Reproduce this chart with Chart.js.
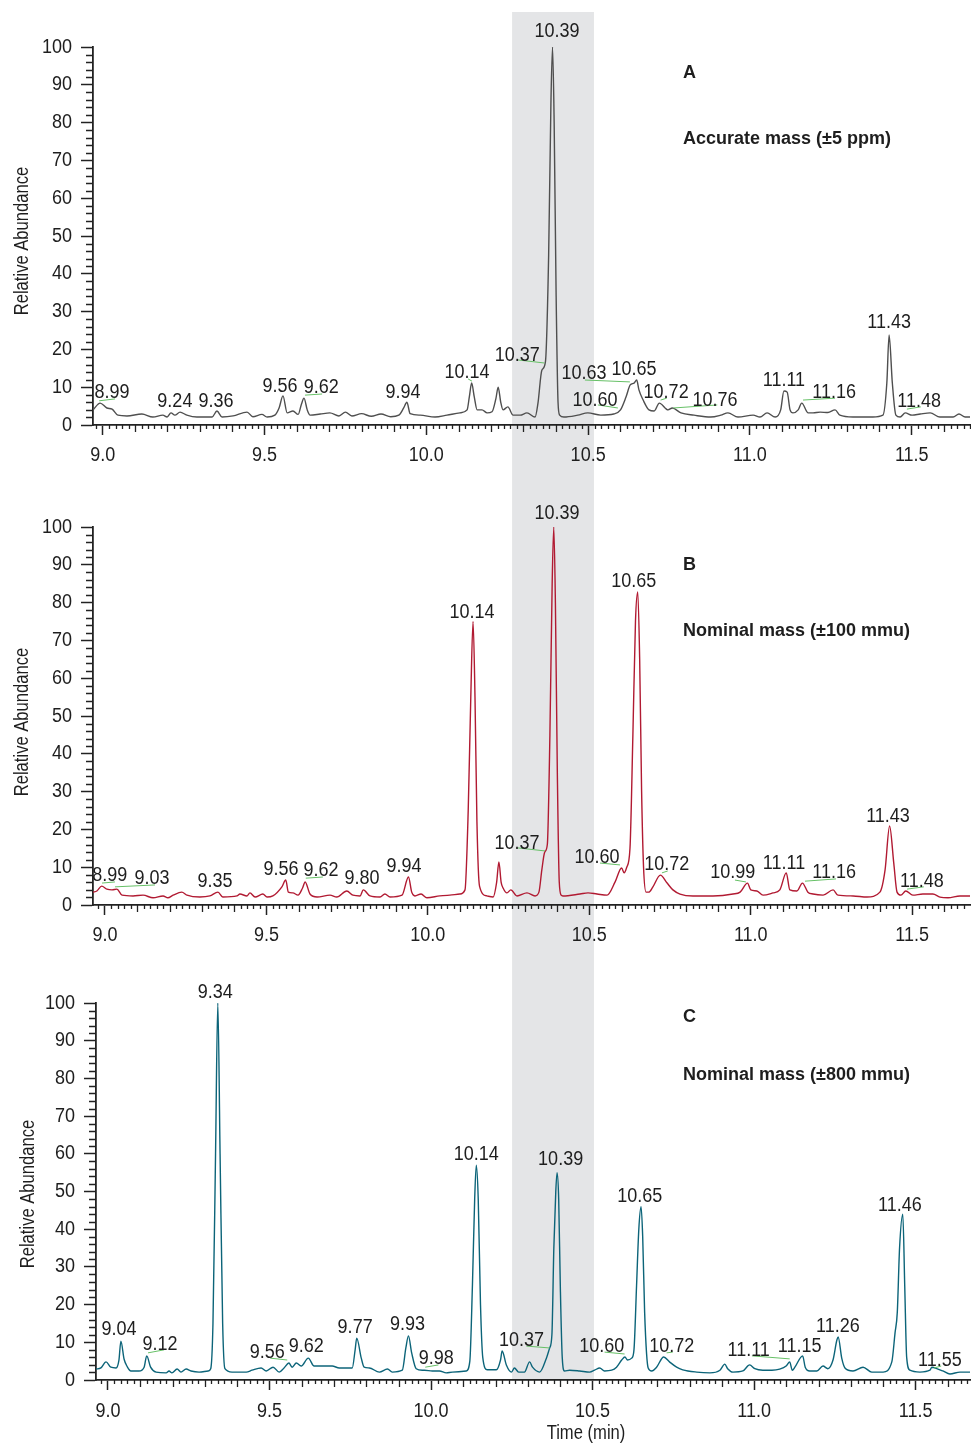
<!DOCTYPE html>
<html>
<head>
<meta charset="utf-8">
<script src="https://cdn.jsdelivr.net/npm/chart.js"></script>
<style>
  body { margin: 0; background: #fff; }
  #wrap { position: relative; width: 971px; height: 1445px; }
  canvas { position: absolute; left: 0; }
</style>
</head>
<body>
<div id="wrap">
  <canvas id="chartA" width="971" height="480" style="top:0"></canvas>
  <canvas id="chartB" width="971" height="480" style="top:480px"></canvas>
  <canvas id="chartC" width="971" height="485" style="top:960px"></canvas>
</div>
<script>
// retention time (min) / relative abundance (%) for the three extracted ion traces

// A: accurate mass window
const timeA = [8.970, 8.992, 9.013, 9.029, 9.047, 9.075, 9.121, 9.155, 9.186, 9.199,
  9.211, 9.223, 9.239, 9.260, 9.291, 9.338, 9.353, 9.369, 9.403, 9.446,
  9.464, 9.492, 9.508, 9.532, 9.545, 9.557, 9.570, 9.588, 9.604, 9.614,
  9.622, 9.632, 9.641, 9.672, 9.702, 9.730, 9.750, 9.770, 9.800, 9.830,
  9.860, 9.890, 9.915, 9.930, 9.940, 9.950, 9.981, 10.027, 10.064, 10.104,
  10.126, 10.133, 10.140, 10.148, 10.157, 10.172, 10.188, 10.203, 10.215, 10.222,
  10.230, 10.237, 10.252, 10.268, 10.290, 10.311, 10.336, 10.345, 10.357, 10.368,
  10.378, 10.385, 10.390, 10.395, 10.401, 10.407, 10.412, 10.425, 10.468, 10.499,
  10.539, 10.579, 10.600, 10.617, 10.630, 10.642, 10.650, 10.657, 10.670, 10.688,
  10.704, 10.720, 10.747, 10.760, 10.787, 10.827, 10.879, 10.910, 10.932, 10.963,
  11.010, 11.031, 11.053, 11.078, 11.095, 11.105, 11.115, 11.124, 11.133, 11.149,
  11.160, 11.180, 11.195, 11.217, 11.241, 11.263, 11.278, 11.318, 11.380, 11.411,
  11.423, 11.430, 11.440, 11.451, 11.464, 11.480, 11.501, 11.526, 11.557, 11.587,
  11.628, 11.646, 11.665, 11.680];
const abundA = [4.0, 5.8, 4.5, 4.2, 2.6, 2.4, 2.9, 2.1, 2.6, 2.1,
  3.2, 2.6, 3.4, 2.6, 2.1, 2.1, 3.7, 2.1, 2.4, 3.4,
  2.2, 2.8, 2.1, 2.6, 4.5, 7.7, 3.2, 3.7, 2.8, 5.5,
  7.1, 4.0, 2.6, 2.9, 3.2, 2.4, 3.4, 2.4, 3.0, 2.3,
  2.9, 2.2, 2.6, 4.5, 6.0, 3.0, 2.6, 2.1, 2.6, 3.2,
  4.0, 7.5, 11.1, 7.5, 4.0, 4.0, 3.2, 3.5, 7.0, 10.0,
  6.0, 4.0, 4.8, 2.6, 2.6, 3.2, 2.1, 5.8, 14.5, 16.7,
  45, 85, 100, 80, 35, 6.0, 2.6, 2.1, 2.6, 3.2,
  2.6, 2.9, 4.0, 7.4, 10.6, 11.1, 11.9, 9.3, 6.6, 4.0,
  3.7, 5.8, 4.0, 4.5, 3.2, 2.6, 2.1, 2.6, 3.2, 2.1,
  2.6, 2.1, 3.2, 2.1, 4.0, 9.0, 8.7, 4.0, 3.2, 4.0,
  5.8, 3.2, 3.2, 3.4, 3.3, 4.0, 2.6, 2.1, 2.1, 2.6,
  11.1, 23.8, 11.1, 2.6, 2.1, 3.2, 2.6, 2.9, 3.2, 2.1,
  2.1, 2.9, 2.1, 2.1];

// B: nominal mass, 100 mmu window
const timeB = [8.963, 8.975, 8.990, 9.006, 9.022, 9.037, 9.053, 9.087, 9.118, 9.149,
  9.180, 9.195, 9.211, 9.238, 9.254, 9.294, 9.325, 9.350, 9.365, 9.409,
  9.418, 9.440, 9.449, 9.465, 9.489, 9.502, 9.520, 9.548, 9.560, 9.568,
  9.582, 9.598, 9.612, 9.620, 9.635, 9.657, 9.697, 9.718, 9.749, 9.768,
  9.790, 9.800, 9.821, 9.852, 9.867, 9.883, 9.920, 9.940, 9.950, 9.960,
  9.979, 9.997, 10.037, 10.068, 10.099, 10.115, 10.125, 10.133, 10.140, 10.146,
  10.152, 10.160, 10.183, 10.202, 10.213, 10.220, 10.227, 10.233, 10.245, 10.257,
  10.276, 10.307, 10.332, 10.344, 10.353, 10.362, 10.370, 10.378, 10.385, 10.390,
  10.395, 10.401, 10.407, 10.413, 10.418, 10.471, 10.496, 10.524, 10.555, 10.580,
  10.600, 10.608, 10.616, 10.626, 10.635, 10.643, 10.650, 10.656, 10.662, 10.668,
  10.676, 10.684, 10.697, 10.720, 10.741, 10.759, 10.781, 10.821, 10.883, 10.945,
  10.967, 10.990, 11.000, 11.019, 11.038, 11.069, 11.090, 11.110, 11.121, 11.143,
  11.160, 11.177, 11.193, 11.224, 11.255, 11.270, 11.317, 11.360, 11.400, 11.416,
  11.430, 11.443, 11.453, 11.465, 11.480, 11.502, 11.533, 11.564, 11.586, 11.611,
  11.648, 11.679];
const abundB = [3.4, 3.7, 5.0, 4.2, 4.0, 4.2, 2.6, 2.4, 2.6, 1.9,
  2.4, 1.9, 2.6, 3.4, 2.6, 2.1, 2.4, 3.4, 2.1, 2.4,
  2.9, 2.4, 3.2, 2.1, 2.9, 2.1, 2.4, 4.8, 6.6, 3.4,
  3.2, 2.6, 4.5, 6.1, 2.9, 2.1, 2.6, 2.1, 3.7, 2.6,
  2.4, 4.0, 2.4, 2.1, 2.9, 2.1, 2.6, 7.4, 3.4, 2.4,
  2.9, 1.9, 2.4, 2.6, 2.9, 4.0, 25, 55, 75, 55,
  22, 5.0, 2.4, 2.1, 6.0, 11.4, 6.0, 4.5, 3.2, 4.0,
  2.4, 3.2, 2.4, 3.4, 9.3, 14.0, 16.0, 45, 85, 100,
  80, 35, 6.0, 2.6, 2.4, 2.9, 3.2, 2.9, 2.6, 6.1,
  9.8, 8.5, 10.0, 15, 45, 75, 82.8, 65, 30, 10,
  3.4, 3.4, 4.8, 7.9, 5.8, 4.0, 2.9, 2.4, 2.4, 2.9,
  3.4, 5.8, 4.0, 3.7, 2.6, 3.2, 4.0, 8.5, 4.0, 3.7,
  5.8, 3.4, 2.9, 2.6, 4.0, 2.6, 2.4, 2.1, 3.4, 9.3,
  20.9, 11.0, 3.4, 2.6, 3.7, 2.6, 2.9, 2.9, 2.1, 1.9,
  2.4, 2.4];

// C: nominal mass, 800 mmu window
const timeC = [8.963, 8.978, 8.994, 9.009, 9.025, 9.034, 9.040, 9.050, 9.060, 9.071,
  9.096, 9.112, 9.120, 9.132, 9.149, 9.180, 9.189, 9.198, 9.214, 9.226,
  9.242, 9.257, 9.282, 9.310, 9.318, 9.325, 9.333, 9.340, 9.347, 9.355,
  9.362, 9.384, 9.428, 9.446, 9.474, 9.490, 9.511, 9.530, 9.545, 9.560,
  9.570, 9.583, 9.598, 9.620, 9.638, 9.654, 9.694, 9.716, 9.756, 9.765,
  9.770, 9.784, 9.793, 9.809, 9.840, 9.865, 9.880, 9.911, 9.922, 9.930,
  9.940, 9.954, 9.973, 9.980, 10.004, 10.026, 10.047, 10.066, 10.109, 10.120,
  10.128, 10.135, 10.140, 10.146, 10.153, 10.160, 10.174, 10.202, 10.215, 10.220,
  10.233, 10.249, 10.258, 10.271, 10.289, 10.305, 10.314, 10.336, 10.357, 10.367,
  10.374, 10.380, 10.386, 10.390, 10.395, 10.400, 10.406, 10.413, 10.429, 10.460,
  10.491, 10.506, 10.522, 10.537, 10.559, 10.574, 10.590, 10.600, 10.608, 10.621,
  10.628, 10.636, 10.643, 10.650, 10.655, 10.661, 10.667, 10.672, 10.683, 10.698,
  10.720, 10.738, 10.760, 10.779, 10.822, 10.863, 10.894, 10.909, 10.918, 10.934,
  10.965, 10.986, 11.002, 11.027, 11.055, 11.079, 11.100, 11.110, 11.118, 11.126,
  11.150, 11.158, 11.172, 11.194, 11.213, 11.228, 11.244, 11.256, 11.260, 11.271,
  11.281, 11.306, 11.337, 11.364, 11.399, 11.426, 11.436, 11.443, 11.450, 11.460,
  11.466, 11.472, 11.482, 11.513, 11.544, 11.550, 11.569, 11.584, 11.606, 11.637,
  11.668];
const abundC = [2.9, 3.2, 4.8, 3.4, 3.2, 5.3, 10.3, 5.5, 3.5, 2.4,
  2.4, 3.4, 6.4, 3.4, 2.1, 1.9, 2.4, 1.9, 2.9, 2.1,
  2.9, 2.4, 2.1, 2.4, 3.0, 15, 60, 100, 60, 15,
  3.0, 2.1, 2.1, 2.6, 3.2, 2.4, 3.4, 2.1, 3.2, 4.5,
  3.4, 4.5, 3.7, 5.8, 3.7, 3.7, 3.7, 3.2, 3.2, 8.0,
  11.1, 5.8, 3.4, 3.2, 2.1, 2.9, 2.1, 2.6, 8.5, 11.7,
  7.2, 3.0, 2.6, 2.6, 2.4, 2.4, 1.9, 2.1, 2.4, 5.0,
  25, 48, 57, 48, 20, 6.0, 2.7, 2.7, 5.3, 7.7,
  4.0, 2.1, 3.2, 2.1, 2.1, 4.8, 3.4, 2.1, 5.8, 8.5,
  12, 35, 50, 55, 48, 25, 6.0, 2.4, 2.6, 2.4,
  2.1, 2.6, 3.2, 2.4, 2.6, 3.4, 5.3, 6.1, 5.3, 5.8,
  8.0, 25, 40, 46, 38, 18, 7.0, 3.2, 2.4, 3.4,
  6.1, 4.8, 3.4, 2.7, 2.1, 1.9, 2.6, 4.2, 3.0, 2.1,
  2.4, 4.0, 3.0, 2.6, 2.6, 2.9, 3.8, 4.8, 2.6, 3.4,
  6.4, 3.4, 2.4, 2.4, 3.7, 3.0, 5.3, 10.6, 11.4, 5.8,
  3.2, 2.4, 3.4, 2.1, 2.1, 4.8, 12.5, 18, 35, 44,
  25, 6.0, 2.6, 2.1, 2.6, 3.4, 2.9, 2.4, 1.6, 2.1,
  2.1];

const xTicks = [9.0, 9.5, 10.0, 10.5, 11.0, 11.5];
const yTicks = [0, 10, 20, 30, 40, 50, 60, 70, 80, 90, 100];
const bandWindow = [10.265, 10.518];   // shaded retention window (min)

// peak annotations: label text, label centre (min, %), optional leader line
const peaksA = [
  { text: '8.99', at: [9.029, 8.5], leader: [8.989, 6.4, 9.038, 6.9] },
  { text: '9.24', at: [9.223, 6.3] },
  { text: '9.36', at: [9.350, 6.3] },
  { text: '9.56', at: [9.548, 10.3] },
  { text: '9.62', at: [9.675, 9.8], leader: [9.625, 7.9, 9.678, 8.2] },
  { text: '9.94', at: [9.928, 8.5] },
  { text: '10.14', at: [10.126, 13.8], leader: [10.129, 12.2, 10.141, 11.6] },
  { text: '10.37', at: [10.281, 18.5], leader: [10.284, 17.2, 10.365, 16.4] },
  { text: '10.39', at: [10.404, 104.2] },
  { text: '10.63', at: [10.487, 13.5], leader: [10.490, 11.9, 10.629, 11.4] },
  { text: '10.65', at: [10.642, 14.8] },
  { text: '10.60', at: [10.521, 6.6], leader: [10.530, 5.3, 10.592, 4.5] },
  { text: '10.72', at: [10.741, 8.5], leader: [10.724, 6.6, 10.743, 7.1] },
  { text: '10.76', at: [10.892, 6.6], leader: [10.763, 4.5, 10.899, 5.3] },
  { text: '11.11', at: [11.105, 11.9] },
  { text: '11.16', at: [11.260, 8.5], leader: [11.164, 6.6, 11.263, 7.1] },
  { text: '11.43', at: [11.430, 27.0] },
  { text: '11.48', at: [11.523, 6.3], leader: [11.485, 4.2, 11.528, 4.8] }
];
const peaksB = [
  { text: '8.99', at: [9.015, 7.7], leader: [8.991, 5.8, 9.031, 6.1] },
  { text: '9.03', at: [9.146, 6.9], leader: [9.031, 4.8, 9.155, 5.3] },
  { text: '9.35', at: [9.341, 6.3] },
  { text: '9.56', at: [9.545, 9.5] },
  { text: '9.62', at: [9.669, 9.0], leader: [9.622, 7.1, 9.675, 7.4] },
  { text: '9.80', at: [9.796, 6.9] },
  { text: '9.94', at: [9.926, 10.3] },
  { text: '10.14', at: [10.137, 77.5] },
  { text: '10.39', at: [10.400, 103.7] },
  { text: '10.37', at: [10.276, 16.4], leader: [10.279, 15.1, 10.363, 14.3] },
  { text: '10.65', at: [10.638, 85.7] },
  { text: '10.60', at: [10.524, 12.7], leader: [10.533, 11.1, 10.595, 10.6] },
  { text: '10.72', at: [10.740, 10.8], leader: [10.725, 8.5, 10.743, 9.0] },
  { text: '10.99', at: [10.944, 8.5], leader: [10.951, 6.6, 10.985, 6.1] },
  { text: '11.11', at: [11.103, 11.1] },
  { text: '11.16', at: [11.258, 8.5], leader: [11.168, 6.3, 11.264, 6.9] },
  { text: '11.43', at: [11.425, 23.5] },
  { text: '11.48', at: [11.530, 6.3], leader: [11.484, 4.2, 11.536, 4.8] }
];
const peaksC = [
  { text: '9.04', at: [9.034, 13.3] },
  { text: '9.12', at: [9.161, 9.3], leader: [9.124, 7.2, 9.174, 8.0] },
  { text: '9.34', at: [9.332, 102.9] },
  { text: '9.56', at: [9.493, 7.4], leader: [9.502, 5.8, 9.555, 5.3] },
  { text: '9.62', at: [9.614, 8.8] },
  { text: '9.77', at: [9.765, 13.8] },
  { text: '9.93', at: [9.927, 14.6] },
  { text: '9.98', at: [10.016, 5.8], leader: [9.982, 3.4, 10.023, 4.0] },
  { text: '10.14', at: [10.140, 59.9] },
  { text: '10.37', at: [10.280, 10.6], leader: [10.295, 9.0, 10.367, 8.5] },
  { text: '10.39', at: [10.401, 58.4] },
  { text: '10.60', at: [10.528, 9.0], leader: [10.537, 7.4, 10.599, 6.9] },
  { text: '10.65', at: [10.646, 48.8] },
  { text: '10.72', at: [10.745, 9.0], leader: [10.729, 7.2, 10.748, 7.4] },
  { text: '11.11', at: [10.983, 7.7], leader: [10.993, 6.4, 11.110, 5.6] },
  { text: '11.15', at: [11.141, 9.0] },
  { text: '11.26', at: [11.259, 14.3] },
  { text: '11.46', at: [11.451, 46.2] },
  { text: '11.55', at: [11.575, 5.3], leader: [11.557, 3.2, 11.579, 3.7] }
];

const FAMILY = "'Liberation Sans', Arial, sans-serif";
const NUM_FONT = '20px ' + FAMILY;
const TITLE_FONT = '20px ' + FAMILY;
const CAPTION_FONT = 'bold 18px ' + FAMILY;
const INK = '#1e1e1e';

const panels = [
  { id: 'chartA', time: timeA, abund: abundA, color: '#4f4f4f', peaks: peaksA,
    letter: 'A', caption: 'Accurate mass (\u00b15 ppm)', letterY: 73, captionY: 139,
    xMin: 8.970, xMax: 11.680, padTop: 47, axisW: 93, axisH: 55, labelGap: 30,
    bandTop: 12, bandToAxis: false, titleX: 22, titleY: 241 },
  { id: 'chartB', time: timeB, abund: abundB, color: '#b11a32', peaks: peaksB,
    letter: 'B', caption: 'Nominal mass (\u00b1100 mmu)', letterY: 85, captionY: 151,
    xMin: 8.963, xMax: 11.679, padTop: 47, axisW: 93, axisH: 55, labelGap: 30,
    bandTop: 0, bandToAxis: false, titleX: 22, titleY: 242 },
  { id: 'chartC', time: timeC, abund: abundC, color: '#0c6479', peaks: peaksC,
    letter: 'C', caption: 'Nominal mass (\u00b1800 mmu)', letterY: 57, captionY: 115,
    xMin: 8.963, xMax: 11.668, padTop: 43, axisW: 96, axisH: 65, labelGap: 31,
    bandTop: 0, bandToAxis: true, titleX: 28, titleY: 234,
    xTitle: 'Time (min)', xTitleX: 586, xTitleY: 473 }
];

// the print uses a condensed face; squeeze a regular sans horizontally
function narrowText(ctx, text, x, y, align, font, squeeze) {
  ctx.save();
  ctx.font = font;
  ctx.textAlign = align;
  ctx.textBaseline = 'middle';
  ctx.translate(x, y);
  ctx.scale(squeeze, 1);
  ctx.fillText(text, 0, 0);
  ctx.restore();
}

const charts = [];

function makePanel(p) {
  const points = p.time.map((t, i) => ({ x: t, y: p.abund[i] }));

  const deco = {
    id: 'deco',
    beforeDraw(chart) {
      // grey retention window, aligned to the top panel's time axis
      const ref = (charts[0] || chart).scales.x;
      const x1 = ref.getPixelForValue(bandWindow[0]);
      const x2 = ref.getPixelForValue(bandWindow[1]);
      const bottom = p.bandToAxis ? chart.chartArea.bottom + 1 : chart.height;
      const ctx = chart.ctx;
      ctx.save();
      ctx.fillStyle = '#e4e5e7';
      ctx.fillRect(x1, p.bandTop, x2 - x1, bottom - p.bandTop);
      ctx.restore();
    },
    afterDraw(chart) {
      const { ctx, chartArea: area, scales: { x, y } } = chart;
      ctx.save();
      // minor ticks: every 0.02 min (0.1 min a bit longer), every 2 % on y
      ctx.strokeStyle = '#222';
      ctx.lineWidth = 1.3;
      ctx.beginPath();
      for (let i = Math.ceil(p.xMin * 50); i <= Math.floor(p.xMax * 50); i++) {
        if (i % 25 === 0) continue;
        const px = Math.round(x.getPixelForValue(i / 50)) + 0.5;
        const len = i % 5 === 0 ? 7 : 4;
        ctx.moveTo(px, area.bottom);
        ctx.lineTo(px, area.bottom + len);
      }
      for (let v = 2; v < 100; v += 2) {
        if (v % 10 === 0) continue;
        const py = Math.round(y.getPixelForValue(v)) + 0.5;
        ctx.moveTo(area.left - 7, py);
        ctx.lineTo(area.left, py);
      }
      ctx.stroke();

      // tick labels on the library's tick positions
      ctx.fillStyle = INK;
      x.ticks.forEach(t => narrowText(ctx, t.value.toFixed(1), x.getPixelForValue(t.value),
        area.bottom + p.labelGap, 'center', NUM_FONT, 0.9));
      y.ticks.forEach(t => narrowText(ctx, String(t.value), area.left - 21,
        y.getPixelForValue(t.value), 'right', NUM_FONT, 0.9));

      // leader lines from labels to their peaks
      ctx.strokeStyle = '#66c066';
      ctx.lineWidth = 1;
      p.peaks.forEach(pk => {
        if (!pk.leader) return;
        const [t1, v1, t2, v2] = pk.leader;
        ctx.beginPath();
        ctx.moveTo(x.getPixelForValue(t1), y.getPixelForValue(v1));
        ctx.lineTo(x.getPixelForValue(t2), y.getPixelForValue(v2));
        ctx.stroke();
      });

      // retention time labels
      p.peaks.forEach(pk => narrowText(ctx, pk.text, x.getPixelForValue(pk.at[0]),
        y.getPixelForValue(pk.at[1]), 'center', NUM_FONT, 0.9));

      // panel letter and mass window caption
      narrowText(ctx, p.letter, 683, p.letterY, 'left', CAPTION_FONT, 1);
      narrowText(ctx, p.caption, 683, p.captionY, 'left', CAPTION_FONT, 1);

      // axis titles
      if (p.xTitle) narrowText(ctx, p.xTitle, p.xTitleX, p.xTitleY, 'center', TITLE_FONT, 0.83);
      ctx.translate(p.titleX, p.titleY);
      ctx.rotate(-Math.PI / 2);
      narrowText(ctx, 'Relative Abundance', 0, 0, 'center', TITLE_FONT, 0.83);
      ctx.restore();
    }
  };

  const chart = new Chart(document.getElementById(p.id), {
    type: 'line',
    data: {
      datasets: [{
        data: points,
        borderColor: p.color,
        borderWidth: 1.4,
        pointRadius: 0,
        fill: false,
        cubicInterpolationMode: 'monotone'
      }]
    },
    options: {
      responsive: false,
      animation: false,
      layout: { padding: { top: p.padTop, right: 1, left: 0, bottom: 0 } },
      plugins: { legend: { display: false }, tooltip: { enabled: false } },
      scales: {
        x: {
          type: 'linear',
          min: p.xMin,
          max: p.xMax,
          afterBuildTicks: s => { s.ticks = xTicks.map(v => ({ value: v })); },
          afterFit: s => { s.height = p.axisH; },
          ticks: { display: false },
          grid: { drawOnChartArea: false, tickLength: 10, tickWidth: 1.5, tickColor: '#222' },
          border: { display: true, color: '#222', width: 1.8 }
        },
        y: {
          min: 0,
          max: 100,
          afterBuildTicks: s => { s.ticks = yTicks.map(v => ({ value: v })); },
          afterFit: s => { s.width = p.axisW; },
          ticks: { display: false },
          grid: { drawOnChartArea: false, tickLength: 12, tickWidth: 1.5, tickColor: '#222' },
          border: { display: true, color: '#222', width: 1.8 }
        }
      }
    },
    plugins: [deco]
  });
  charts.push(chart);
}

panels.forEach(makePanel);
</script>
</body>
</html>
